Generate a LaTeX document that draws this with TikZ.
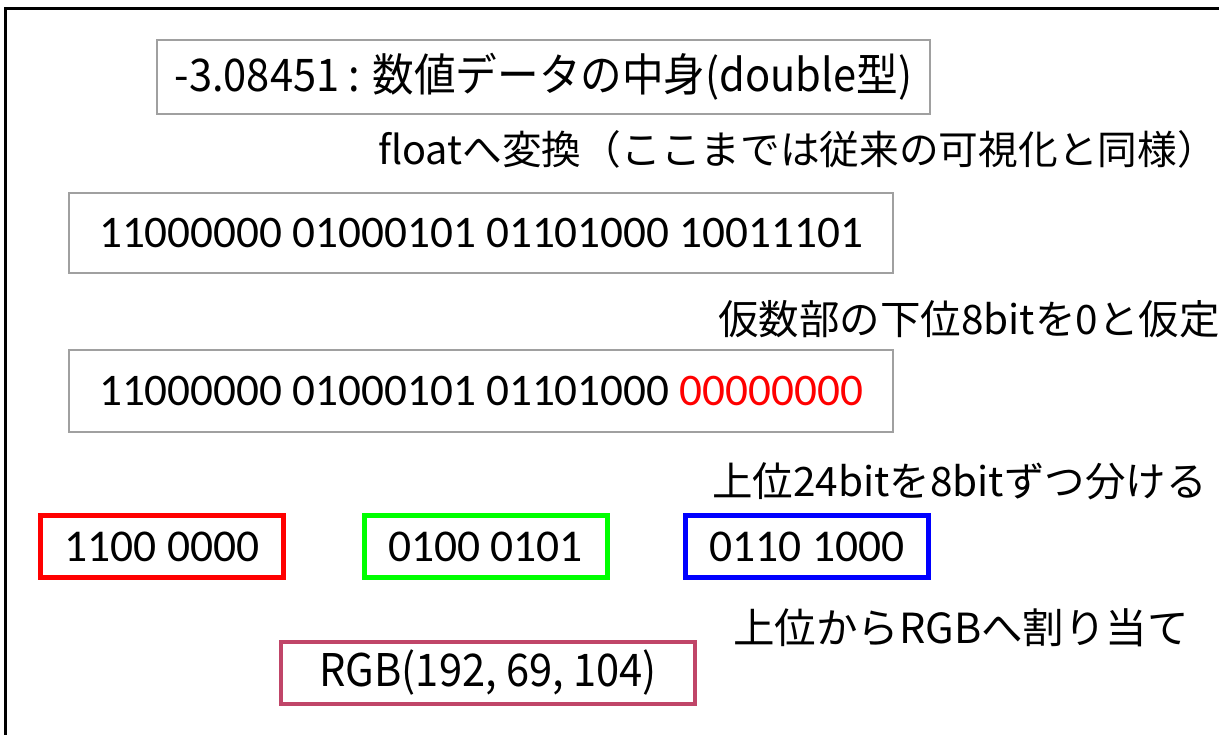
\documentclass[tikz,border=0pt]{standalone}
\usepackage{fontspec}
\setmainfont{Noto Sans CJK JP}
\newfontfamily\lblfont{Noto Sans CJK JP}
\newfontfamily\narrowfont[FakeStretch=0.925]{Noto Sans CJK JP}
\newfontfamily\binfont{Carlito}
\definecolor{boxgray}{RGB}{160,160,160}
\definecolor{rgbpink}{RGB}{192,69,104}
\definecolor{pgreen}{RGB}{0,255,0}
\definecolor{pred}{RGB}{255,0,0}
\definecolor{pblue}{RGB}{0,0,255}
\tikzset{
  graybox/.style={draw=boxgray, line width=2pt, inner sep=0pt, align=center},
  colbox/.style={draw=#1, line width=5pt, inner sep=0pt, minimum width=243pt, minimum height=62pt,
     font=\binfont\fontsize{45.5}{48}\selectfont},
  lbl/.style={anchor=west, inner sep=0pt, font=\lblfont\fontsize{40.5}{43}\selectfont},
}
\begin{document}
\begin{tikzpicture}[x=1pt,y=-1pt]
\path[use as bounding box] (0,0) rectangle (1219,735);
\draw[line width=3pt] (1219,9) -- (5,9) -- (5,735);
\node[graybox, minimum width=773pt, minimum height=74pt, font=\narrowfont\fontsize{45}{48}\selectfont] (src) at (543.5,77) {-3.08451 : 数値データの中身(double型)};
\node[lbl, font=\lblfont\fontsize{39.7}{43}\selectfont] (l1) at (378,149) {floatへ変換（ここまでは従来の可視化と同様）};
\node[graybox, minimum width=824pt, minimum height=80pt, font=\binfont\fontsize{45.2}{48}\selectfont] (flt) at (481,233) {11000000 01000101 01101000 10011101};
\node[lbl] (l2) at (718,319) {仮数部の下位8bitを0と仮定};
\node[graybox, minimum width=824pt, minimum height=82pt, font=\binfont\fontsize{45.2}{48}\selectfont] (trunc) at (481,391) {11000000 01000101 01101000 \textcolor{pred}{00000000}};
\node[lbl] (l3) at (712,481) {上位24bitを8bitずつ分ける};
\node[colbox=pred] (r) at (162,546.5) {1100 0000};
\node[colbox=pgreen] (g) at (485.5,546.5) {0100 0101};
\node[colbox=pblue] (b) at (807,546.5) {0110 1000};
\node[lbl, font=\lblfont\fontsize{41.5}{44}\selectfont] (l4) at (733,628) {上位からRGBへ割り当て};
\node[draw=rgbpink, line width=4pt, inner sep=0pt, minimum width=414pt, minimum height=62pt, font=\narrowfont\fontsize{45}{48}\selectfont] (rgb) at (488,673) {RGB(192, 69, 104)};
\end{tikzpicture}
\end{document}
